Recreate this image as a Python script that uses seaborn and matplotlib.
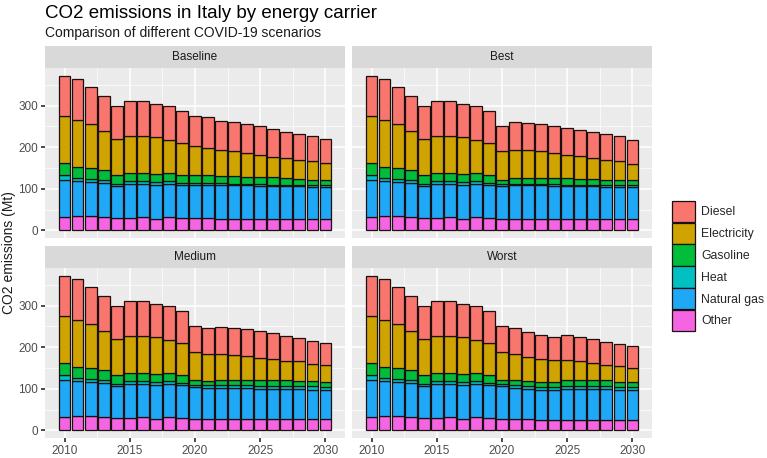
import matplotlib
matplotlib.use("Agg")
import matplotlib.pyplot as plt
from matplotlib.patches import Patch
import seaborn as sns
import pandas as pd
import numpy as np

# ---- data (Mt CO2) ----
years = list(range(2010, 2031))
carriers = ['Diesel', 'Electricity', 'Gasoline', 'Heat', 'Natural gas', 'Other']
scenarios = ['Baseline', 'Best', 'Medium', 'Worst']

# 2010-2019, shared by all scenarios
hist_diesel = [98, 97, 88, 85, 80, 84, 84, 81, 80, 77]
hist_electricity = [112, 114, 107, 92, 87, 90, 88, 88, 81, 75]
hist_gasoline = [30, 26, 26, 24, 20, 20, 20, 20, 19, 20]
hist_heat = [10, 8, 8, 8, 6, 6, 6, 6, 6, 4]
hist_natgas = [90, 84, 82, 82, 76, 82, 81, 84, 79, 81]
hist_other = [32, 34, 34, 32, 30, 30, 31, 26, 33, 29]

# 2020-2030 per scenario
baseline = {
    'Diesel': [72, 74, 71, 70, 69, 68, 66, 63, 61, 61, 58],
    'Electricity': [69, 65, 63, 60, 58, 54, 49, 49, 46, 44, 40],
    'Gasoline': [20, 19, 17, 18, 17, 17, 18, 15, 15, 14, 14],
    'Heat': [4, 4, 4, 4, 3, 4, 3, 4, 3, 3, 3],
    'Natural gas': [80, 80, 81, 80, 80, 79, 79, 78, 78, 77, 77],
    'Other': [30, 30, 28, 28, 28, 28, 28, 28, 28, 28, 28],
}
best = {
    'Diesel': [61, 67, 65, 66, 65, 64, 64, 64, 61, 60, 58],
    'Electricity': [68, 67, 66, 64, 60, 57, 54, 50, 48, 44, 39],
    'Gasoline': [10, 15, 15, 14, 14, 15, 14, 13, 13, 14, 13],
    'Heat': [6, 4, 4, 4, 4, 3, 4, 4, 4, 3, 4],
    'Natural gas': [78, 80, 80, 80, 79, 79, 78, 78, 77, 77, 76],
    'Other': [28, 28, 28, 28, 28, 28, 28, 28, 28, 28, 28],
}
medium = {
    'Diesel': [61, 63, 65, 66, 65, 65, 63, 61, 56, 57, 54],
    'Electricity': [69, 65, 63, 58, 56, 54, 51, 47, 48, 41, 40],
    'Gasoline': [10, 10, 12, 14, 14, 13, 13, 14, 12, 12, 11],
    'Heat': [6, 6, 6, 6, 7, 7, 7, 7, 7, 8, 7],
    'Natural gas': [78, 76, 76, 76, 75, 74, 74, 73, 73, 72, 72],
    'Other': [26, 26, 26, 26, 26, 26, 26, 26, 26, 26, 26],
}
worst = {
    'Diesel': [61, 63, 60, 58, 55, 61, 59, 58, 54, 53, 52],
    'Electricity': [67, 63, 59, 55, 53, 46, 44, 42, 38, 38, 35],
    'Gasoline': [10, 12, 12, 12, 12, 16, 16, 14, 14, 12, 12],
    'Heat': [6, 6, 6, 6, 6, 6, 6, 6, 6, 6, 7],
    'Natural gas': [80, 76, 74, 73, 74, 75, 75, 75, 75, 73, 72],
    'Other': [26, 26, 26, 25, 24, 25, 25, 25, 25, 25, 25],
}

colors = ['#F8766D', '#CFA300', '#00BD3C', '#00C0C2', '#1EA8F5', '#F564E3']

hist = dict(zip(carriers, [hist_diesel, hist_electricity, hist_gasoline,
                           hist_heat, hist_natgas, hist_other]))
rows = []
for sc, fut in zip(scenarios, [baseline, best, medium, worst]):
    for c in carriers:
        for y, v in zip(years, hist[c] + fut[c]):
            rows.append((sc, c, y, v))
df = pd.DataFrame(rows, columns=['scenario', 'carrier', 'year', 'value'])

# ---- plot ----
sns.set_theme(style="white")
plt.rcParams['font.family'] = ['Liberation Sans', 'DejaVu Sans']

W, H = 767, 458
fig = plt.figure(figsize=(W / 100, H / 100), dpi=100)

panel_x = [45, 352]
panel_top = [68, 268]
pw, ph, sh = 300, 170, 22

for i, sc in enumerate(scenarios):
    r, c = divmod(i, 2)
    x0 = panel_x[c]
    y0 = panel_top[r]
    ax = fig.add_axes([x0 / W, 1 - (y0 + ph) / H, pw / W, ph / H])
    ax.set_facecolor('#EBEBEB')
    sub = df[df.scenario == sc]
    sns.histplot(data=sub, x='year', weights='value', hue='carrier',
                 hue_order=carriers, palette=colors, multiple='stack',
                 discrete=True, shrink=0.9, alpha=1, edgecolor='#1a1010',
                 linewidth=0.9, legend=False, ax=ax)
    ax.set_xlim(2008.5, 2031.5)
    ax.set_ylim(-18.6, 390.6)
    ax.set_xticks([2010, 2015, 2020, 2025, 2030])
    ax.set_xticks(np.arange(2012.5, 2031, 5), minor=True)
    ax.set_yticks([0, 100, 200, 300])
    ax.set_yticks([50, 150, 250, 350], minor=True)
    ax.grid(which='major', color='white', linewidth=1.1)
    ax.grid(which='minor', color='white', linewidth=0.5)
    ax.set_axisbelow(True)
    for s in ax.spines.values():
        s.set_visible(False)
    ax.tick_params(which='major', length=3, color='#333333', labelsize=8.5,
                   labelcolor='#4D4D4D', pad=2, left=True, bottom=True)
    ax.tick_params(which='minor', length=0)
    ax.set_xlabel('')
    ax.set_ylabel('')
    if r == 0:
        ax.tick_params(labelbottom=False, bottom=False)
    if c == 1:
        ax.tick_params(labelleft=False, left=False)

    sax = fig.add_axes([x0 / W, 1 - y0 / H, pw / W, sh / H])
    sax.set_facecolor('#D9D9D9')
    sax.set_xticks([])
    sax.set_yticks([])
    for s in sax.spines.values():
        s.set_visible(False)
    sax.text(0.5, 0.5, sc, ha='center', va='center', fontsize=8.5,
             color='#1A1A1A', transform=sax.transAxes)

fig.text(45 / W, 1 - 13 / H, 'CO2 emissions in Italy by energy carrier',
         fontsize=13.5, color='black', va='center', ha='left')
fig.text(45 / W, 1 - 33 / H, 'Comparison of different COVID-19 scenarios',
         fontsize=10, color='#1A1A1A', va='center', ha='left')
fig.text(9 / W, 1 - 253 / H, 'CO2 emissions (Mt)', rotation=90,
         fontsize=10, color='#1A1A1A', va='center', ha='center')

handles = [Patch(facecolor=col, edgecolor='#1a1010', linewidth=0.9)
           for col in colors]
fig.legend(handles, carriers, loc='center left',
           bbox_to_anchor=(672 / W, 1 - 266 / H), frameon=False,
           fontsize=8.8, handlelength=1.85, handleheight=2.3,
           labelspacing=0.05, handletextpad=0.55, borderaxespad=0,
           borderpad=0)

fig.savefig('out.png', dpi=100)
